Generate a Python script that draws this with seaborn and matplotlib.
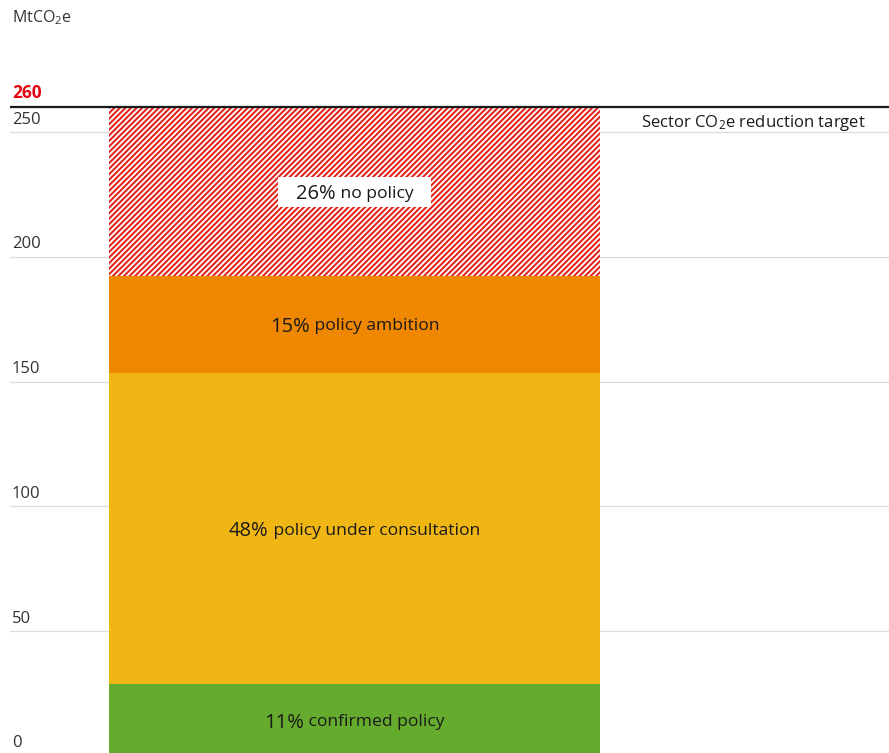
import matplotlib
matplotlib.use("Agg")
import matplotlib.pyplot as plt
from matplotlib.patches import Rectangle
import seaborn as sns
import pandas as pd

# Share of the sector CO2e reduction target by policy status
target_total = 260
segments = ["confirmed policy", "policy under consultation", "policy ambition", "no policy"]
shares = [11, 48, 15, 26]
colors = ["#65ab2d", "#f0b613", "#f08700", "#ffffff"]
tick_values = [0, 50, 100, 150, 200, 250]
unit_label = "MtCO$_2$e"
target_label = "Sector CO$_2$e reduction target"

values = [target_total * s / 100 for s in shares]

sns.set_theme(style="white")
plt.rcParams["font.family"] = ["Open Sans", "DejaVu Sans"]
plt.rcParams["mathtext.fontset"] = "custom"
plt.rcParams["mathtext.rm"] = "Open Sans"
plt.rcParams["mathtext.it"] = "Open Sans"
plt.rcParams["hatch.linewidth"] = 1.5
plt.rcParams["hatch.color"] = "#e2261d"

W, H = 889, 753
fig = plt.figure(figsize=(W / 100, H / 100), dpi=100)
# axes spans from x=10px to the right edge, full height
ax = fig.add_axes([10 / W, 0, 1 - 10 / W, 1])

px_per_unit = 124.7 / 50
px_per_x = 613.75
zero_px = 755.7
xlim = (-(354.5 - 10) / px_per_x, (889 - 354.5) / px_per_x)
ylim = ((zero_px - H) / px_per_unit, zero_px / px_per_unit)

# light gridlines at the ticks
for v in tick_values[1:]:
    ax.axhline(v, color="#dcdcdc", lw=0.9, zorder=0)

df = pd.DataFrame({"cat": ["sector"] * len(values), "seg": segments, "val": values})
bottom = 0
for i, row in df.iterrows():
    hatch = "//////" if row["seg"] == "no policy" else None
    sns.barplot(data=df.iloc[[i]], x="cat", y="val", bottom=bottom, color=colors[i],
                width=0.8, ax=ax, linewidth=0, hatch=hatch,
                edgecolor="#e2261d" if hatch else colors[i], zorder=2,
                saturation=1)
    bottom += row["val"]

ax.set_xlim(*xlim)
ax.set_ylim(*ylim)

# target line
ax.axhline(target_total, color="#1a1a1a", lw=1.6, zorder=3)

for s in ax.spines.values():
    s.set_visible(False)
ax.set_xticks([])
ax.set_yticks([])
ax.set_xlabel("")
ax.set_ylabel("")

x_left = xlim[0] + 2 / px_per_x
for v in tick_values:
    ax.text(x_left, v + 3.4, str(v), ha="left", va="baseline", fontsize=12,
            color="#333333", zorder=4)

ax.text(x_left, target_total + 3.6, str(target_total), ha="left", va="baseline",
        fontsize=12.5, color="#e30613", fontweight="bold", zorder=4)
fig.text(12 / W, 1 - 18 / H, unit_label, ha="left", va="center", fontsize=11.5,
         color="#333333")
fig.text(866 / W, 1 - 123 / H, target_label, ha="right", va="center",
         fontsize=12, color="#1a1a1a")

# segment labels: larger percentage followed by the description
fig.canvas.draw()
renderer = fig.canvas.get_renderer()
centers = []
b = 0
for v in values:
    centers.append(b + v / 2)
    b += v

for seg, share, yc in zip(segments, shares, centers):
    t1 = ax.text(0, yc, f"{share}%", fontsize=14.5, color="#1a1a1a", ha="left",
                 va="center_baseline", zorder=5)
    t2 = ax.text(0, yc, f" {seg}", fontsize=12.6, color="#1a1a1a", ha="left",
                 va="center_baseline", zorder=5)
    w1 = t1.get_window_extent(renderer).width
    w2 = t2.get_window_extent(renderer).width
    total = w1 + w2
    x0 = -total / 2 / px_per_x
    t1.set_x(x0)
    t2.set_x(x0 + w1 / px_per_x)
    if seg == "no policy":
        pad_px = 18
        ax.add_patch(Rectangle((x0 - pad_px / px_per_x, yc - 15 / px_per_unit),
                               (total + 2 * pad_px) / px_per_x, 30 / px_per_unit,
                               facecolor="white", edgecolor="none", zorder=4))

fig.savefig("out.png", dpi=100)
